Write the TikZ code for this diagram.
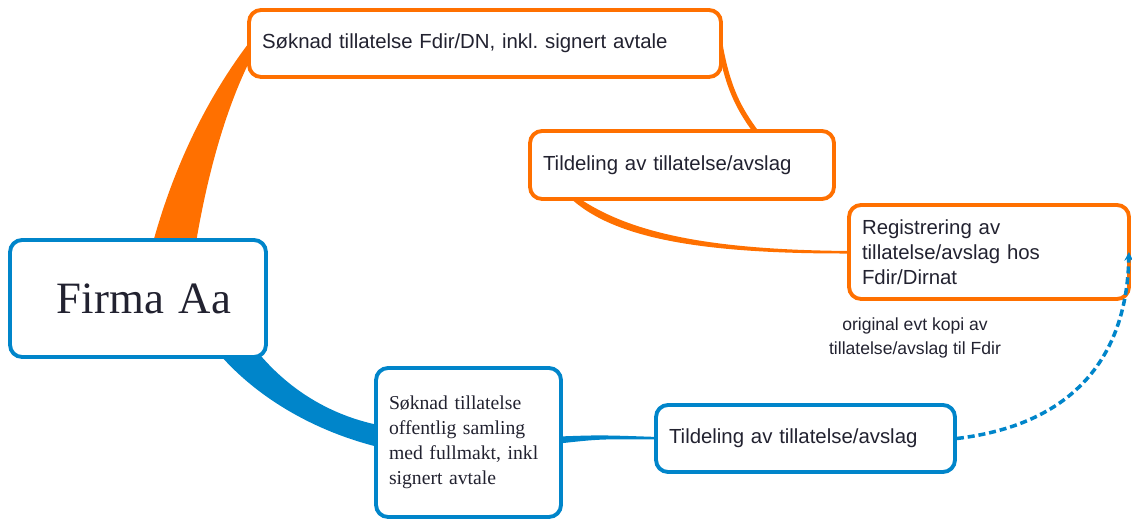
\documentclass[tikz,border=0pt]{standalone}
\usepackage{fontspec}
\setmainfont{Liberation Sans}
\newfontfamily\serifface{Liberation Serif}
\usetikzlibrary{calc,backgrounds,arrows.meta}
\definecolor{mmorange}{RGB}{255,112,0}
\definecolor{mmblue}{RGB}{0,133,202}
\definecolor{mmtext}{RGB}{34,34,48}
\frenchspacing
\tikzset{
    mmbox/.style={draw, line width=2.2pt, rounded corners=0.24cm, fill=white,
        inner xsep=0.26cm, inner ysep=0pt, align=left, text=mmtext,
        font=\fontsize{11.6}{14.2}\selectfont},
    orangebox/.style={mmbox, draw=mmorange},
    bluebox/.style={mmbox, draw=mmblue}
}

\begin{document}
\begin{tikzpicture}[x=0.02cm, y=-0.02cm]
	    \useasboundingbox (0,0) rectangle (1132,519);
	    \node[orangebox, text width=8.92cm, minimum height=1.34cm] (soknadF) at (485,43.5)
		      {Søknad tillatelse Fdir/DN, inkl. signert avtale};
	    \node[orangebox, text width=5.56cm, minimum height=1.36cm] (tildelA) at (682,165)
		      {Tildeling av tillatelse/avslag};
	    \node[orangebox, text width=5.08cm, minimum height=1.88cm] (registrering) at (989,252)
		      {Registrering av\\tillatelse/avslag hos\\Fdir/Dirnat};
	    \node[bluebox, text width=4.6cm, minimum height=2.34cm, align=center,
		      font=\serifface\fontsize{25.5}{30}\selectfont] (firma) at (138,298.5) {\hspace*{0.24cm}Firma Aa};
	    \node[bluebox, text width=3.18cm, minimum height=2.98cm,
		      font=\serifface\fontsize{11.2}{14.2}\selectfont] (soknadO) at (468.5,442.5)
		      {Søknad tillatelse\\offentlig samling\\med fullmakt, inkl\\signert avtale};
	    \node[bluebox, text width=5.46cm, minimum height=1.34cm] (tildelB) at (805.5,438.5)
		      {Tildeling av tillatelse/avslag};
	    \node[align=center, text=mmtext, font=\fontsize{10}{13.6}\selectfont] (kopi) at (915,338)
		      {original evt kopi av\\tillatelse/avslag til Fdir};
	    % branches behind the boxes
	    \begin{scope}[on background layer]
		      \fill[mmorange] ($(firma.north west)+(145,4)$) .. controls (173,170) and (205,100) .. ($(soknadF.west)+(4,-3.5)$)
			        -- ($(soknadF.west)+(4,14.5)$) .. controls (230,100) and (210,160) .. ($(firma.north west)+(188,4)$) -- cycle;
		      \fill[mmblue] ($(firma.south west)+(212,-4)$) .. controls (255,395) and (310,430) .. ($(soknadO.west)+(4,4.5)$)
			        -- ($(soknadO.west)+(4,-17.5)$) .. controls (330,415) and (290,390) .. ($(firma.south west)+(252,-4)$) -- cycle;
		      \draw[mmorange, line width=2.9pt] ($(soknadF.east)+(-3,0)$) .. controls (728,90) and (740,110) .. ($(tildelA.north)+(74,3)$);
		      \fill[mmorange] ($(tildelA.south west)+(41,-4)$) .. controls (612,238) and (700,254) .. ($(registrering.west)+(4,1.5)$)
			        -- ($(registrering.west)+(4,-1)$) .. controls (705,250) and (628,232) .. ($(tildelA.south west)+(49,-4)$) -- cycle;
		      \fill[mmblue] ($(soknadO.east)+(-4,-6)$) .. controls (600,435) .. ($(tildelB.west)+(4,-1.5)$)
			        -- ($(tildelB.west)+(4,1)$) .. controls (600,439) .. ($(soknadO.east)+(-4,1)$) -- cycle;
	    \end{scope}
	    \draw[mmblue, line width=2pt, dash pattern=on 4pt off 2.2pt, -{Stealth[length=5pt,width=5pt]}]
		      (tildelB.east) .. controls (1070,425) and (1127,360) .. ($(registrering.east)+(-2,0)$);
	\end{tikzpicture}
\end{document}
